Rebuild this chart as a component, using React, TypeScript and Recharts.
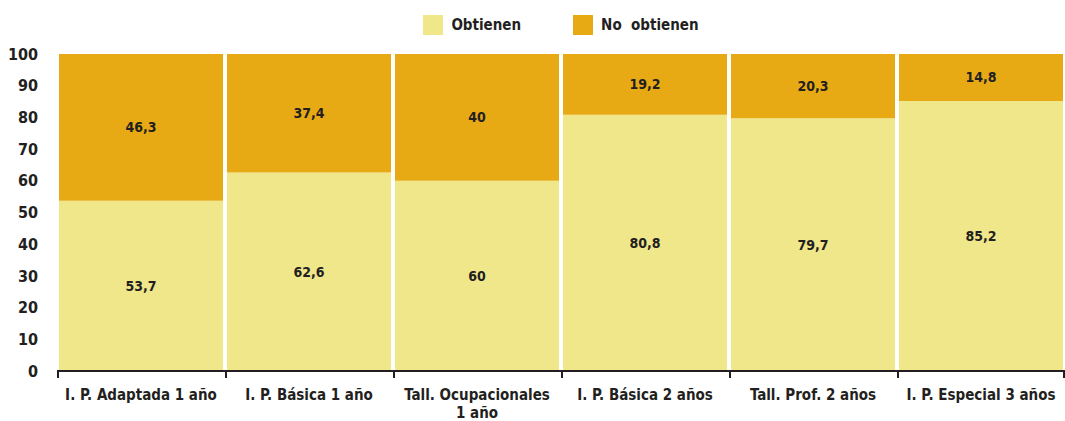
import { BarChart, Bar, XAxis, YAxis, Legend, LabelList } from 'recharts';

const categories = [
  'I. P. Adaptada 1 año',
  'I. P. Básica 1 año',
  'Tall. Ocupacionales\n1 año',
  'I. P. Básica 2 años',
  'Tall. Prof. 2 años',
  'I. P. Especial 3 años',
];
const obtienen = [53.7, 62.6, 60, 80.8, 79.7, 85.2];
const noObtienen = [46.3, 37.4, 40, 19.2, 20.3, 14.8];
const yTicks = [0, 10, 20, 30, 40, 50, 60, 70, 80, 90, 100];

const W = 1065;
const H = 421;
const LEFT = 57;
const FONT = '"DejaVu Sans Condensed", "Liberation Sans Narrow", sans-serif';
const INK = '#231f20';
const LIGHT = '#f0e68a';
const DARK = '#e8aa14';

const data = categories.map((name, i) => ({
  name,
  obtienen: obtienen[i],
  noObtienen: noObtienen[i],
}));

const halfBand = (W - LEFT) / categories.length / 2;

function XTick(props: any) {
  const { x, y, payload, index } = props;
  const lines = String(payload.value).split('\n');
  const axisY = y - 8;
  return (
    <g>
      <line x1={x - halfBand + 1} x2={x - halfBand + 1} y1={axisY} y2={axisY + 7} stroke={INK} strokeWidth={2} />
      {index === categories.length - 1 && (
        <line x1={x + halfBand - 1} x2={x + halfBand - 1} y1={axisY} y2={axisY + 7} stroke={INK} strokeWidth={2} />
      )}
      <text x={x} y={axisY + 29} textAnchor="middle" fill={INK} fontSize={15} fontWeight="bold" fontFamily={FONT}>
        {lines.map((l, i) => (
          <tspan key={i} x={x} dy={i === 0 ? 0 : 18}>{l}</tspan>
        ))}
      </text>
    </g>
  );
}

function LegendBox() {
  const item = (color: string, label: string) => (
    <div style={{ display: 'flex', alignItems: 'center', margin: '0 26px' }}>
      <span style={{ width: 20, height: 20, background: color, display: 'inline-block', marginRight: 8 }} />
      <span style={{ fontFamily: FONT, fontWeight: 'bold', fontSize: 15, color: INK, whiteSpace: 'pre' }}>{label}</span>
    </div>
  );
  return (
    <div style={{ display: 'flex', justifyContent: 'center' }}>
      {item(LIGHT, 'Obtienen')}
      {item(DARK, 'No  obtienen')}
    </div>
  );
}

const fmt = (v: any) => String(v).replace('.', ',');

export default function App() {
  return (
    <div style={{ position: 'absolute', left: 0, top: 0, background: '#fff' }}>
      <BarChart
        width={W}
        height={H}
        data={data}
        margin={{ top: 24, right: 0, left: 0, bottom: 0 }}
        barCategoryGap={2}
      >
        <Legend
          verticalAlign="top"
          height={30}
          content={<LegendBox />}
          wrapperStyle={{ top: 15, left: LEFT, width: W - LEFT }}
        />
        <XAxis
          dataKey="name"
          interval={0}
          tickLine={false}
          axisLine={{ stroke: INK, strokeWidth: 2 }}
          tick={<XTick />}
          height={50}
        />
        <YAxis
          type="number"
          domain={[0, 100]}
          ticks={yTicks}
          width={LEFT}
          axisLine={false}
          tickLine={false}
          tickMargin={13}
          tick={{ fill: INK, fontSize: 16, fontWeight: 'bold', fontFamily: FONT }}
        />
        <Bar dataKey="obtienen" stackId="a" fill={LIGHT} isAnimationActive={false}>
          <LabelList dataKey="obtienen" position="center" formatter={fmt} fill={INK} fontSize={14} fontWeight="bold" fontFamily={FONT} />
        </Bar>
        <Bar dataKey="noObtienen" stackId="a" fill={DARK} isAnimationActive={false}>
          <LabelList dataKey="noObtienen" position="center" formatter={fmt} fill={INK} fontSize={14} fontWeight="bold" fontFamily={FONT} />
        </Bar>
      </BarChart>
    </div>
  );
}
